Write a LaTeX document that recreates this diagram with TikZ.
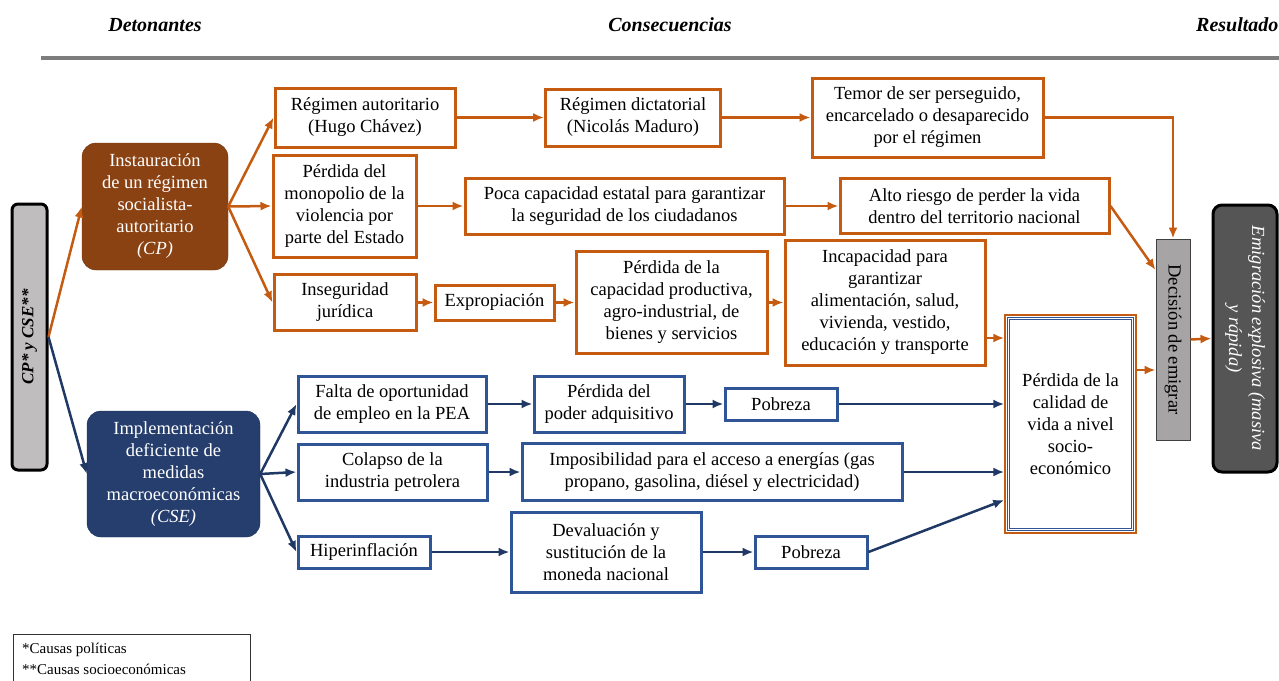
\documentclass[tikz,border=0pt]{standalone}
\usepackage{fontspec}
\setmainfont{Liberation Serif}
\usetikzlibrary{arrows.meta}
\definecolor{orng}{RGB}{197,90,17}
\definecolor{brn}{RGB}{139,66,19}
\definecolor{blu}{RGB}{47,85,151}
\definecolor{navy}{RGB}{32,56,100}
\definecolor{implfill}{RGB}{37,62,110}
\definecolor{cpgray}{RGB}{191,189,189}
\definecolor{decgray}{RGB}{166,164,164}
\definecolor{emgray}{RGB}{85,85,85}
\definecolor{rulegray}{RGB}{125,125,125}

\begin{document}
\begin{tikzpicture}[x=1pt, y=-1pt,
  txt/.style={font=\fontsize{18.5}{22}\selectfont, align=center, inner sep=1pt},
  obox/.style={txt, draw=orng, line width=3pt, fill=white},
  bbox/.style={txt, draw=blu, line width=3pt, fill=white},
  oarr/.style={->, orng, line width=2.5pt},
  barr/.style={->, navy, line width=2.5pt},
  head/.style={font=\fontsize{20}{24}\selectfont\bfseries\itshape},
  >={Latex[length=11pt,width=9pt]}]
  \useasboundingbox (0,0) rectangle (1279,680);

  \node[head] (det) at (155,25) {Detonantes};
  \node[head] (cons) at (670,25) {Consecuencias};
  \node[head, anchor=east] (res) at (1282,25) {Resultado};
  \draw[line width=4pt, rulegray] (41,58) -- (1279,58);

  \node[draw=black, line width=3pt, fill=cpgray, rounded corners=6pt, rotate=90,
    minimum width=266pt, minimum height=35pt,
    font=\fontsize{17}{20}\selectfont\bfseries\itshape] (cp) at (29.5,337) {CP* y CSE**};

  \node[txt, fill=brn, draw=brn!80!black, rounded corners=14pt, text=white,
    minimum width=146pt, minimum height=127pt] (inst) at (155,206.5)
    {Instauración\\de un régimen\\socialista-\\autoritario\\\textit{(CP)}};
  \node[txt, fill=implfill, draw=implfill!80!black, rounded corners=14pt, text=white,
    minimum width=173pt, minimum height=126pt] (impl) at (173.5,474)
    {Implementación\\deficiente de\\medidas\\macroeconómicas\\\textit{(CSE)}};

  \node[obox, minimum width=180pt, minimum height=59pt] (regaut) at (365,117.5) {Régimen autoritario\\(Hugo Chávez)};
  \node[obox, minimum width=175pt, minimum height=57pt] (regdic) at (633,117.5) {Régimen dictatorial\\(Nicolás Maduro)};
  \node[obox, minimum width=231pt, minimum height=79pt] (temor) at (927.5,117.5) {Temor de ser perseguido,\\encarcelado o desaparecido\\por el régimen};
  \node[obox, minimum width=143pt, minimum height=102pt] (monop) at (344.5,206) {Pérdida del\\monopolio de la\\violencia por\\parte del Estado};
  \node[obox, minimum width=319pt, minimum height=56pt] (poca) at (624.5,206) {Poca capacidad estatal para garantizar\\la seguridad de los ciudadanos};
  \node[obox, minimum width=269pt, minimum height=55pt] (alto) at (974.5,206) {Alto riesgo de perder la vida\\dentro del territorio nacional};
  \node[obox, minimum width=142pt, minimum height=56pt] (inseg) at (345,302.5) {Inseguridad\\jurídica};
  \node[obox, minimum width=119pt, minimum height=35pt] (expro) at (494.5,302.5) {Expropiación};
  \node[obox, minimum width=191pt, minimum height=102pt] (capac) at (671.5,302.5) {Pérdida de la\\capacidad productiva,\\agro-industrial, de\\bienes y servicios};
  \node[obox, minimum width=200pt, minimum height=125pt] (incap) at (885,302.5) {Incapacidad para\\garantizar\\alimentación, salud,\\vivienda, vestido,\\educación y transporte};

  \node[bbox, minimum width=188pt, minimum height=56pt] (falta) at (392,404) {Falta de oportunidad\\de empleo en la PEA};
  \node[bbox, minimum width=150pt, minimum height=56pt] (poder) at (609,404) {Pérdida del\\poder adquisitivo};
  \node[bbox, minimum width=112pt, minimum height=32pt] (pob1) at (781,404) {Pobreza};
  \node[bbox, minimum width=189pt, minimum height=56pt] (colapso) at (392.5,472) {Colapso de la\\industria petrolera};
  \node[bbox, minimum width=380pt, minimum height=57pt] (imposib) at (712,472) {Imposibilidad para el acceso a energías (gas\\propano, gasolina, diésel y electricidad)};
  \node[bbox, minimum width=132pt, minimum height=32pt] (hiper) at (364,552) {Hiperinflación};
  \node[bbox, minimum width=190pt, minimum height=80pt] (deval) at (606,552) {Devaluación y\\sustitución de la\\moneda nacional};
  \node[bbox, minimum width=112pt, minimum height=32pt] (pob2) at (811,552) {Pobreza};

  \node[txt, draw=orng, line width=1.5pt, fill=white, minimum width=131pt, minimum height=218pt] (calidad) at (1070.5,424)
    {Pérdida de la\\calidad de\\vida a nivel\\socio-\\económico};
  \draw[blu, line width=1.1pt, double=white, double distance=1.2pt]
    ([shift={(4,4)}]calidad.north west) rectangle ([shift={(-4,-4)}]calidad.south east);

  \node[txt, draw=black!75, line width=1pt, fill=decgray, rotate=-90,
    minimum width=201pt, minimum height=34pt] (dec) at (1173,339.5) {Decisión de emigrar};
  \node[draw=black, line width=3pt, fill=emgray, rounded corners=9pt, rotate=-90,
    minimum width=267pt, minimum height=64pt, align=center, text=white, inner sep=1pt,
    font=\fontsize{18.5}{23}\selectfont\itshape] (emig) at (1245,338.5) {Emigración explosiva (masiva\\y rápida)};

  \path[oarr]
  (cp.south) edge (inst.west)
  (inst.east) edge (regaut.west)
  (inst.east) edge (monop.west)
  (inst.east) edge (inseg.west)
  (regaut.east) edge (regdic.west)
  (regdic.east) edge (temor.west)
  (monop.east) edge (poca.west)
  (poca.east) edge (alto.west)
  (inseg.east) edge (expro.west)
  (expro.east) edge (capac.west)
  (capac.east) edge (incap.west)
  (alto.east) edge (dec.south |- 0,270)
  (incap.east |- 0,338) edge (calidad.west |- 0,338)
  (calidad.east |- 0,370) edge (dec.south |- 0,370)
  (dec.north) edge (emig.south)
  ;
  \draw[oarr] (temor.east) -| (dec.west);

  \path[barr]
  (cp.south) edge (impl.west)
  (impl.east) edge (falta.west)
  (impl.east) edge (colapso.west)
  (impl.east) edge (hiper.west)
  (falta.east) edge (poder.west)
  (poder.east) edge (pob1.west)
  (pob1.east) edge (calidad.west |- pob1.east)
  (colapso.east) edge (imposib.west)
  (imposib.east) edge (calidad.west |- imposib.east)
  (hiper.east) edge (deval.west)
  (deval.east) edge (pob2.west)
  (pob2.east) edge (calidad.west |- 0,500)
  ;

  \draw[black!80, line width=0.8pt] (13,634) rectangle (250,700);
  \node[anchor=west, font=\fontsize{15}{18}\selectfont, inner sep=0pt] (pol) at (22,650) {*Causas políticas};
  \node[anchor=west, font=\fontsize{15}{18}\selectfont, inner sep=0pt] (soc) at (22,669) {**Causas socioeconómicas};
\end{tikzpicture}
\end{document}
